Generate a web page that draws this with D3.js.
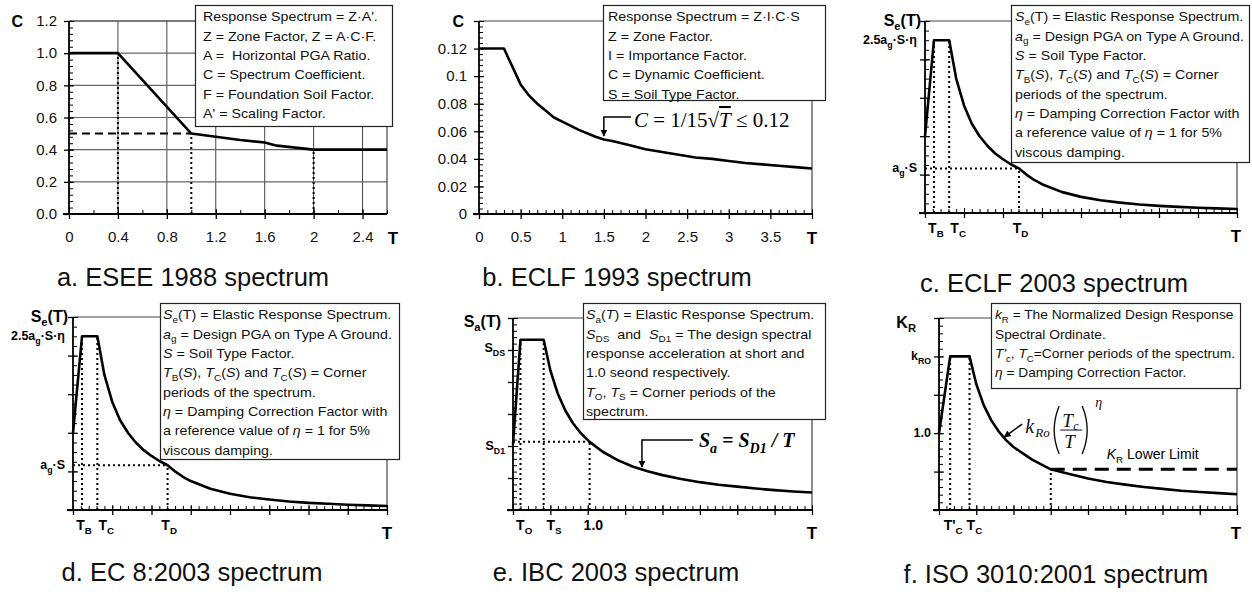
<!DOCTYPE html>
<html>
<head>
<meta charset="utf-8">
<script src="https://cdn.jsdelivr.net/npm/d3@7"></script>
<style>
body { margin: 0; background: #fff; }
svg { font-family: "Liberation Sans", Arial, sans-serif; }
text { white-space: pre; }
</style>
</head>
<body>
<svg id="chart" width="1252" height="594"></svg>
<script>
// ---- data ----

// a. ESEE 1988
var esseT = [0, 0.4, 1.0, 1.2, 1.4, 1.6, 1.7, 2.0, 2.6];
var esseC = [1.0, 1.0, 0.5, 0.48, 0.46, 0.445, 0.425, 0.4, 0.4];
var esseXTicks = [0, 0.4, 0.8, 1.2, 1.6, 2, 2.4];
var esseXLabels = ["0", "0.4", "0.8", "1.2", "1.6", "2", "2.4"];
var esseYTicks = [0, 0.2, 0.4, 0.6, 0.8, 1.0, 1.2];
var esseYLabels = ["0.0", "0.2", "0.4", "0.6", "0.8", "1.0", "1.2"];

// b. ECLF 1993
var eclfT = [0, 0.3, 0.5, 0.6, 0.7, 0.8, 0.9, 1.0, 1.2, 1.4, 1.5, 1.6, 1.8, 2.0, 2.2, 2.4, 2.6, 2.8, 3.0, 3.2, 3.4, 3.6, 3.8, 4.0];
var eclfC = [0.12, 0.12, 0.094, 0.086, 0.08, 0.075, 0.07, 0.067, 0.061, 0.056, 0.054, 0.053, 0.05, 0.047, 0.045, 0.043, 0.041, 0.04, 0.0385, 0.037, 0.036, 0.035, 0.034, 0.033];
var eclfXTicks = [0, 0.5, 1, 1.5, 2, 2.5, 3, 3.5];
var eclfXLabels = ["0", "0.5", "1", "1.5", "2", "2.5", "3", "3.5"];
var eclfYTicks = [0, 0.02, 0.04, 0.06, 0.08, 0.1, 0.12];
var eclfYLabels = ["0", "0.02", "0.04", "0.06", "0.08", "0.1", "0.12"];

// c. ECLF 2003 and d. EC 8:2003 (same shape, normalised units)
var ec8T = [0, 0.23, 0.62, 0.8, 1.0, 1.2, 1.4, 1.6, 1.8, 2.0, 2.2, 2.41, 2.6, 2.8, 3.0, 3.5, 4.0, 4.5, 5.0, 5.5, 6.0, 6.5, 7.0, 7.5, 8.0];
var ec8S = [0.40, 0.90, 0.90, 0.70, 0.56, 0.465, 0.40, 0.35, 0.31, 0.28, 0.254, 0.232, 0.20, 0.172, 0.15, 0.11, 0.084, 0.066, 0.054, 0.044, 0.037, 0.032, 0.027, 0.024, 0.021];
var ec8YLabels = ["2.5a_{g}·S·η", "a_{g}·S"];
var ec8YLabelVals = [0.9, 0.232];
var ec8XLabels = ["T_{B}", "T_{C}", "T_{D}"];
var ec8XLabelVals = [0.28, 0.85, 2.45];

// e. IBC 2003
var ibcT = [0, 0.2, 0.82, 1.0, 1.2, 1.4, 1.6, 1.8, 2.05, 2.4, 2.8, 3.2, 3.6, 4.0, 4.5, 5.0, 5.5, 6.0, 6.5, 7.0, 7.5, 8.0];
var ibcS = [2.05, 5.32, 5.32, 4.36, 3.63, 3.11, 2.72, 2.42, 2.13, 1.82, 1.56, 1.36, 1.21, 1.09, 0.97, 0.87, 0.79, 0.73, 0.67, 0.62, 0.58, 0.545];
var ibcYLabels = ["S_{DS}", "S_{D1}"];
var ibcYLabelVals = [5.05, 2.0];
var ibcXLabels = ["T_{O}", "T_{S}", "1.0"];
var ibcXLabelVals = [0.3, 1.1, 2.15];

// f. ISO 3010:2001
var isoT = [0, 0.3, 0.82, 1.0, 1.2, 1.4, 1.6, 1.8, 2.0, 2.5, 3.0, 3.5, 4.0, 4.5, 5.0, 5.5, 6.0, 6.5, 7.0, 7.5, 8.0];
var isoK = [2.0, 4.0, 4.0, 3.28, 2.73, 2.34, 2.05, 1.82, 1.64, 1.31, 1.06, 0.94, 0.82, 0.73, 0.66, 0.6, 0.55, 0.5, 0.47, 0.44, 0.41];
var isoLowerT = 3.0, isoLower = 1.06;
var isoYLabels = ["k_{RO}", "1.0"];
var isoYLabelVals = [4, 2];
var isoXLabels = ["T'_{C}", "T_{C}"];
var isoXLabelVals = [0.38, 0.95];

var esseLegend = ["Response Spectrum = Z·A'.", "Z = Zone Factor, Z = A·C·F.", "A =  Horizontal PGA Ratio.",
    "C = Spectrum Coefficient.", "F = Foundation Soil Factor.", "A' = Scaling Factor."];
var eclfLegend = ["Response Spectrum = Z·I·C·S", "Z = Zone Factor.", "I = Importance Factor.",
    "C = Dynamic Coefficient.", "S = Soil Type Factor."];
var ec8Legend = ["*S*_{e}(T) = Elastic Response Spectrum.", "*a*_{g} = Design PGA on Type A Ground.",
    "*S* = Soil Type Factor.", "*T*_{B}(*S*), *T*_{C}(*S*) and *T*_{C}(*S*) = Corner", "periods of the spectrum.",
    "*η* = Damping Correction Factor with", "a reference value of *η* = 1 for 5%", "viscous damping."];
var ibcLegend = ["*S*_{a}(*T*) = Elastic Response Spectrum.", "*S*_{DS}  and  *S*_{D1} = The design spectral",
    "response acceleration at short and", "1.0 seond respectively.", "*T*_{O}, *T*_{S} = Corner periods of the", "spectrum."];
var isoLegend = ["*k*_{R} = The Normalized Design Response", "Spectral Ordinate.",
    "*T'*_{c}, *T*_{C}=Corner periods of the spectrum.", "*η* = Damping Correction Factor."];

var svg = d3.select("#chart");

// tiny markup: *italic*, _{sub}, ^{sup}
function rich(sel, str, size) {
    var parts = str.split(/(\*[^*]+\*|_\{[^}]*\}|\^\{[^}]*\})/).filter(function(s) { return s.length; });
    var shift = 0;
    parts.forEach(function(p) {
        var t = p, italic = false, dy = 0, fs = size;
        if (p.charAt(0) === "*") { t = p.slice(1, -1); italic = true; }
        else if (p.indexOf("_{") === 0) { t = p.slice(2, -1); dy = size * 0.28; fs = size * 0.7; }
        else if (p.indexOf("^{") === 0) { t = p.slice(2, -1); dy = -size * 0.45; fs = size * 0.7; }
        sel.append("tspan").attr("dy", dy - shift).attr("font-size", fs)
            .attr("font-style", italic ? "italic" : null).text(t);
        shift = dy;
    });
}

function legend(box, lines, pad, sx) {
    svg.append("rect").attr("x", box[0] + 0.5).attr("y", box[1] + 0.5)
        .attr("width", box[2] - box[0]).attr("height", box[3] - box[1])
        .attr("fill", "#fff").attr("stroke", "#222").attr("stroke-width", 1.2);
    var g = svg.append("g").attr("transform", "translate(" + (box[0] + pad) + ",0) scale(" + (sx || 1.14) + ",1)");
    lines.forEach(function(l, i) {
        var t = g.append("text").attr("x", 0).attr("y", box[1] + 16.5 + i * 19.3).attr("font-size", 12.5).attr("fill", "#111");
        rich(t, l, 12.5);
    });
}

function dotted(g, pts) {
    g.append("path").attr("d", d3.line()(pts)).attr("fill", "none")
        .attr("stroke", "#000").attr("stroke-width", 2).attr("stroke-dasharray", "2,3");
}

svg.append("defs").append("marker").attr("id", "arr").attr("viewBox", "0 0 10 10")
    .attr("refX", 9).attr("refY", 5).attr("markerWidth", 7).attr("markerHeight", 7)
    .attr("orient", "auto").attr("markerUnits", "userSpaceOnUse")
    .append("path").attr("d", "M0,0L10,5L0,10Z").attr("fill", "#000");

function panel(p) {
    var x = d3.scaleLinear().domain(p.xDomain).range([p.left, p.right]);
    var y = d3.scaleLinear().domain(p.yDomain).range([p.bottom, p.top]);
    var g = svg.append("g");

    if (p.grid) {
        g.selectAll(".gx").data(p.xTicks.slice(1)).enter().append("line")
            .attr("x1", function(d) { return x(d); }).attr("x2", function(d) { return x(d); })
            .attr("y1", p.top).attr("y2", p.bottom).attr("stroke", "#444").attr("stroke-width", 1);
        g.selectAll(".gy").data(p.yTicks.slice(1)).enter().append("line")
            .attr("y1", function(d) { return y(d); }).attr("y2", function(d) { return y(d); })
            .attr("x1", p.left).attr("x2", p.right).attr("stroke", "#666").attr("stroke-width", 1.1);
    }
    g.append("path").attr("d", "M" + p.left + "," + p.top + "H" + p.right + "V" + p.bottom)
        .attr("fill", "none").attr("stroke", "#444").attr("stroke-width", 1.2);

    // minor ticks (inside)
    var xm = d3.range(p.xDomain[0], p.xDomain[1] + 1e-9, p.xMinor);
    var ym = d3.range(p.yDomain[0], p.yDomain[1] + 1e-9, p.yMinor);
    g.append("g").attr("transform", "translate(0," + p.bottom + ")")
        .call(d3.axisBottom(x).tickValues(xm).tickSizeInner(-4).tickSizeOuter(0).tickFormat(""))
        .call(function(s) { s.select(".domain").remove(); });
    g.append("g").attr("transform", "translate(" + p.left + ",0)")
        .call(d3.axisLeft(y).tickValues(ym).tickSizeInner(-4).tickSizeOuter(0).tickFormat(""))
        .call(function(s) { s.select(".domain").remove(); });

    // major ticks crossing the axis
    var xMaj = p.xMajor || p.xTicks, yMaj = p.yMajor || p.yTicks;
    g.append("g").attr("transform", "translate(0," + p.bottom + ")")
        .call(d3.axisBottom(x).tickValues(xMaj).tickSizeInner(-5).tickSizeOuter(0).tickFormat(""))
        .call(function(s) { s.select(".domain").remove(); });
    g.append("g").attr("transform", "translate(" + p.left + ",0)")
        .call(d3.axisLeft(y).tickValues(yMaj).tickSizeInner(-5).tickSizeOuter(0).tickFormat(""))
        .call(function(s) { s.select(".domain").remove(); });
    var xa = g.append("g").attr("transform", "translate(0," + p.bottom + ")")
        .call(d3.axisBottom(x).tickValues(xMaj).tickSizeInner(5).tickSizeOuter(0).tickPadding(12)
            .tickFormat(function(d, i) { return p.xLabels ? p.xLabels[i] : ""; }));
    var ya = g.append("g").attr("transform", "translate(" + p.left + ",0)")
        .call(d3.axisLeft(y).tickValues(yMaj).tickSizeInner(5).tickSizeOuter(0).tickPadding(7)
            .tickFormat(function(d, i) { return p.yLabels ? p.yLabels[i] : ""; }));
    [xa, ya].forEach(function(a) {
        a.selectAll("text").attr("font-size", 15).attr("fill", "#111")
            .attr("font-family", '"Liberation Sans", Arial, sans-serif');
        a.selectAll("line").attr("stroke", "#000").attr("stroke-width", 1.3);
        a.select(".domain").attr("stroke", "#000").attr("stroke-width", 1.8);
    });
    ya.select(".domain").attr("d", "M0," + p.bottom + "V" + p.top);
    xa.select(".domain").attr("d", "M" + (p.left - 6) + ",0H" + p.right);

    // custom symbolic labels
    if (p.yRich) p.yRich.forEach(function(l, i) {
        var t = g.append("text").attr("x", p.left - 8).attr("y", y(p.yRichVals[i]) + 4)
            .attr("text-anchor", "end").attr("font-weight", "bold").attr("font-size", 12.5);
        rich(t, l, 12.5);
    });
    if (p.xRich) p.xRich.forEach(function(l, i) {
        var t = g.append("text").attr("x", x(p.xRichVals[i])).attr("y", p.bottom + 20)
            .attr("text-anchor", "middle").attr("font-weight", "bold").attr("font-size", 14);
        rich(t, l, 14);
    });

    // axis names
    var yt = g.append("text").attr("x", p.yName[0]).attr("y", p.yName[1]).attr("text-anchor", "end")
        .attr("font-weight", "bold").attr("font-size", p.yName[2]);
    rich(yt, p.yName[3], p.yName[2]);
    g.append("text").attr("x", p.tName[0]).attr("y", p.tName[1]).attr("text-anchor", "middle")
        .attr("font-weight", "bold").attr("font-size", 17).text("T");

    if (p.extra) p.extra(g, x, y);

    g.append("path").datum(d3.zip(p.T, p.V))
        .attr("d", d3.line().x(function(d) { return x(d[0]); }).y(function(d) { return y(d[1]); }))
        .attr("fill", "none").attr("stroke", "#000").attr("stroke-width", 2.6).attr("stroke-linejoin", "round");

    if (p.after) p.after(g, x, y);

    svg.append("text").attr("x", p.title[0]).attr("y", p.title[1]).attr("text-anchor", "middle")
        .attr("font-size", 25.5).attr("fill", "#111").text(p.title[2]);
}

// a
panel({
    left: 69, right: 387, top: 21, bottom: 214, xDomain: [0, 2.6], yDomain: [0, 1.2],
    xTicks: esseXTicks, xLabels: esseXLabels, yTicks: esseYTicks, yLabels: esseYLabels,
    xMinor: 0.2, yMinor: 0.04, grid: true, T: esseT, V: esseC,
    yName: [23, 27, 16, "C"], tName: [393, 244],
    title: [193, 286, "a. ESEE 1988 spectrum"],
    extra: function(g, x, y) {
        dotted(g, [[x(esseT[1]), y(0)], [x(esseT[1]), y(esseC[1])]]);
        dotted(g, [[x(esseT[2]), y(0)], [x(esseT[2]), y(esseC[2])]]);
        dotted(g, [[x(esseT[7]), y(0)], [x(esseT[7]), y(esseC[7])]]);
        g.append("path").attr("d", d3.line()([[x(0), y(esseC[2])], [x(esseT[2]), y(esseC[2])]]))
            .attr("stroke", "#000").attr("stroke-width", 2).attr("stroke-dasharray", "8,5");
    }
});
legend([195, 5, 392, 126], esseLegend, 8);

// b
panel({
    left: 479, right: 812, top: 21, bottom: 214, xDomain: [0, 4], yDomain: [0, 0.14],
    xTicks: eclfXTicks, xLabels: eclfXLabels, xMajor: d3.range(0, 4.01, 0.5), yTicks: eclfYTicks, yLabels: eclfYLabels,
    yMajor: d3.range(0, 0.1401, 0.02),
    xMinor: 0.1, yMinor: 0.004, T: eclfT, V: eclfC,
    yName: [464, 27, 16, "C"], tName: [812, 244],
    title: [617, 286, "b. ECLF 1993 spectrum"],
    after: function(g, x, y) {
        var tx = x(1.5), ty = y(0.0566);
        g.append("path").attr("d", "M" + (tx + 27) + "," + (ty - 19) + "H" + tx + "V" + ty)
            .attr("fill", "none").attr("stroke", "#000").attr("stroke-width", 1.5).attr("marker-end", "url(#arr)");
        var t = g.append("text").attr("x", tx + 30).attr("y", ty - 9).attr("font-family", '"Liberation Serif", "Times New Roman", serif')
            .attr("font-size", 21);
        t.append("tspan").attr("font-style", "italic").text("C");
        t.append("tspan").text(" = 1/15√");
        t.append("tspan").attr("font-style", "italic").attr("text-decoration", "overline").text("T");
        t.append("tspan").text(" ≤ 0.12");
    }
});
legend([603, 5, 825, 100], eclfLegend, 5);

// c and d share the EC8-type shape
function ec8Extra(g, x, y) {
    dotted(g, [[x(ec8T[1]), y(0)], [x(ec8T[1]), y(ec8S[1])]]);
    dotted(g, [[x(ec8T[2]), y(0)], [x(ec8T[2]), y(ec8S[2])]]);
    dotted(g, [[x(ec8T[11]), y(0)], [x(ec8T[11]), y(ec8S[11])]]);
    dotted(g, [[x(0), y(ec8S[11])], [x(ec8T[11]), y(ec8S[11])]]);
}
panel({
    left: 925, right: 1237, top: 21, bottom: 213, xDomain: [0, 8], yDomain: [0, 1],
    xTicks: d3.range(0, 8.01, 1), yTicks: d3.range(0, 1.01, 0.2),
    xMinor: 0.2, yMinor: 0.05, T: ec8T, V: ec8S,
    yRich: ec8YLabels, yRichVals: ec8YLabelVals, xRich: ec8XLabels, xRichVals: ec8XLabelVals,
    yName: [921, 26, 16, "S_{e}(T)"], tName: [1236, 242],
    title: [1054, 292, "c. ECLF 2003 spectrum"],
    extra: ec8Extra
});
legend([1011, 5, 1249, 162], ec8Legend, 4);

panel({
    left: 73, right: 387, top: 317, bottom: 510, xDomain: [0, 8], yDomain: [0, 1],
    xTicks: d3.range(0, 8.01, 1), yTicks: d3.range(0, 1.01, 0.2),
    xMinor: 0.2, yMinor: 0.05, T: ec8T, V: ec8S,
    yRich: ec8YLabels, yRichVals: ec8YLabelVals, xRich: ec8XLabels, xRichVals: ec8XLabelVals,
    yName: [68, 322, 16, "S_{e}(T)"], tName: [387, 539],
    title: [192, 581, "d. EC 8:2003 spectrum"],
    extra: ec8Extra
});
legend([160, 303, 399, 459], ec8Legend, 3);

// e
panel({
    left: 513, right: 812, top: 318, bottom: 510, xDomain: [0, 8], yDomain: [0, 6],
    xTicks: d3.range(0, 8.01, 1), yTicks: d3.range(0, 6.01, 1),
    xMinor: 0.2, yMinor: 0.2, T: ibcT, V: ibcS,
    yRich: ibcYLabels, yRichVals: ibcYLabelVals, xRich: ibcXLabels, xRichVals: ibcXLabelVals,
    yName: [501, 327, 16, "S_{a}(T)"], tName: [812, 539],
    title: [616, 581, "e. IBC 2003 spectrum"],
    extra: function(g, x, y) {
        dotted(g, [[x(ibcT[1]), y(0)], [x(ibcT[1]), y(ibcS[1])]]);
        dotted(g, [[x(ibcT[2]), y(0)], [x(ibcT[2]), y(ibcS[2])]]);
        dotted(g, [[x(ibcT[8]), y(0)], [x(ibcT[8]), y(ibcS[8])]]);
        dotted(g, [[x(0), y(ibcS[8])], [x(ibcT[8]), y(ibcS[8])]]);
    },
    after: function(g, x, y) {
        var tx = x(3.45), ty = y(1.34);
        g.append("path").attr("d", "M" + (tx + 51) + "," + (ty - 27) + "H" + tx + "V" + ty)
            .attr("fill", "none").attr("stroke", "#000").attr("stroke-width", 1.5).attr("marker-end", "url(#arr)");
        var t = g.append("text").attr("x", tx + 57).attr("y", ty - 20)
            .attr("font-family", '"Liberation Serif", "Times New Roman", serif')
            .attr("font-size", 20).attr("font-weight", "bold").attr("font-style", "italic");
        rich(t, "S_{a} = S_{D1} / T", 20);
    }
});
legend([583, 303, 825, 419], ibcLegend, 3);

// f
panel({
    left: 939, right: 1237, top: 318, bottom: 510, xDomain: [0, 8], yDomain: [0, 5],
    xTicks: d3.range(0, 8.01, 1), yTicks: d3.range(0, 5.01, 1),
    xMinor: 0.2, yMinor: 0.2, T: isoT, V: isoK,
    yRich: isoYLabels, yRichVals: isoYLabelVals, xRich: isoXLabels, xRichVals: isoXLabelVals,
    yName: [916, 328, 16, "K_{R}"], tName: [1236, 539],
    title: [1056, 583, "f. ISO 3010:2001 spectrum"],
    extra: function(g, x, y) {
        dotted(g, [[x(isoT[1]), y(0)], [x(isoT[1]), y(isoK[1])]]);
        dotted(g, [[x(isoT[2]), y(0)], [x(isoT[2]), y(isoK[2])]]);
        dotted(g, [[x(isoLowerT), y(0)], [x(isoLowerT), y(isoLower)]]);
        g.append("path").attr("d", d3.line()([[x(isoLowerT), y(isoLower)], [x(8), y(isoLower)]]))
            .attr("stroke", "#000").attr("stroke-width", 3).attr("stroke-dasharray", "14,8");
        var k = g.append("text").attr("x", x(isoLowerT) + 56).attr("y", y(isoLower) - 10).attr("font-size", 14);
        rich(k, "*K*_{R} Lower Limit", 14);
    },
    after: function(g, x, y) {
        var tx = x(1.75), ty = y(1.9);
        g.append("path").attr("d", "M" + (tx + 18) + "," + (ty - 13) + "L" + tx + "," + ty)
            .attr("fill", "none").attr("stroke", "#000").attr("stroke-width", 1.5).attr("marker-end", "url(#arr)");
        var ax = tx + 21, ay = ty - 4, serif = '"Liberation Serif", "Times New Roman", serif';
        function st(px, py, size, s, it) {
            g.append("text").attr("x", px).attr("y", py).attr("font-family", serif).attr("font-size", size)
                .attr("font-style", it ? "italic" : null).attr("fill", "#111").text(s);
        }
        function paren(px, dir) {
            g.append("path").attr("d", "M" + (px + 5 * dir) + "," + (ay - 27) + "Q" + (px - 5 * dir) + "," + (ay - 3) + " " + (px + 5 * dir) + "," + (ay + 21))
                .attr("fill", "none").attr("stroke", "#111").attr("stroke-width", 1.4);
        }
        st(ax, ay, 20, "k", true);
        st(ax + 10, ay + 4, 13, "Ro", true);
        paren(ax + 29, 1);
        st(ax + 37, ay - 6, 19, "T", true);
        st(ax + 48, ay - 3, 12, "c", true);
        g.append("line").attr("x1", ax + 35).attr("x2", ax + 57).attr("y1", ay - 3).attr("y2", ay - 3)
            .attr("stroke", "#111").attr("stroke-width", 1);
        st(ax + 39, ay + 15, 19, "T", true);
        paren(ax + 62, -1);
        st(ax + 70, ay - 26, 14, "η", true);
    }
});
legend([991, 303, 1240, 388], isoLegend, 4, 1.1);
</script>
</body>
</html>
